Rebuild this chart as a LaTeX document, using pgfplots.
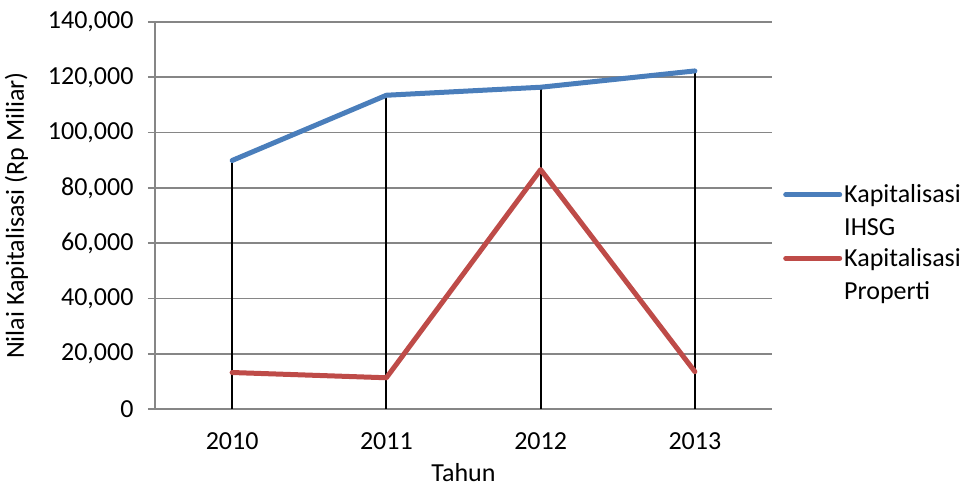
\documentclass[border=0pt]{standalone}
\usepackage{fontspec}
\setmainfont{Carlito}
\usepackage{pgfplots}
\pgfplotsset{compat=1.18}
\usetikzlibrary{calc}
\definecolor{ihsg}{HTML}{4A7EBB}
\definecolor{prop}{HTML}{BE4B48}
\definecolor{gridc}{HTML}{868686}
\newcommand{\cfont}{\fontsize{26bp}{33bp}\selectfont}
\begin{document}
\begin{tikzpicture}[font=\cfont]
\begin{axis}[name=ax, scale only axis, width=617bp, height=387bp,
  xmin=-0.5, xmax=3.5, ymin=0, ymax=140000,
  xtick={0,1,2,3}, xticklabels={2010,2011,2012,2013},
  ytick={0,20000,40000,60000,80000,100000,120000,140000},
  scaled y ticks=false,
  /pgf/number format/.cd, fixed, 1000 sep={,}, assume math mode=true, /pgfplots/.cd,
  axis x line=bottom, axis y line=left,
  axis line style={gridc, line width=1.8bp, -},
  ymajorgrids, grid style={gridc, line width=1.8bp},
  major tick length=7bp, tick align=outside,
  xtick style={draw=none}, ytick style={gridc, line width=1.8bp},
  tick label style={font=\cfont, black},
  xticklabel style={yshift=-13bp},
  yticklabel style={anchor=east, xshift=-11bp},
  xlabel={Tahun}, ylabel={Nilai Kapitalisasi (Rp Miliar)},
  xlabel style={yshift=-9bp, inner sep=1bp},
  ylabel style={yshift=13bp},
  label style={font=\cfont},
  legend style={at={(1.013,0.429)}, anchor=west, draw=none, fill=none,
    nodes={align=left, font=\cfont}, row sep=7bp},
  legend cell align=left,
  legend image code/.code={\draw[#1, line width=5bp] (0bp,16.5bp) -- (54bp,16.5bp);},
]
\addplot[black, line width=2bp, ycomb, forget plot] coordinates {(0,89900) (1,113500) (2,116400) (3,122300)};
\addplot[ihsg, line width=5bp, line join=round, line cap=round] coordinates {(0,89900) (1,113500) (2,116400) (3,122300)};
\addlegendentry{Kapitalisasi\\IHSG}
\addplot[prop, line width=5bp, line join=round, line cap=round] coordinates {(0,13200) (1,11300) (2,86600) (3,13500)};
\addlegendentry{Kapitalisasi\\Properti}
\end{axis}
\pgfresetboundingbox
\path[use as bounding box] ($(ax.south west)+(-155bp,-79bp)$) rectangle ++(965bp,488bp);
\end{tikzpicture}
\end{document}
